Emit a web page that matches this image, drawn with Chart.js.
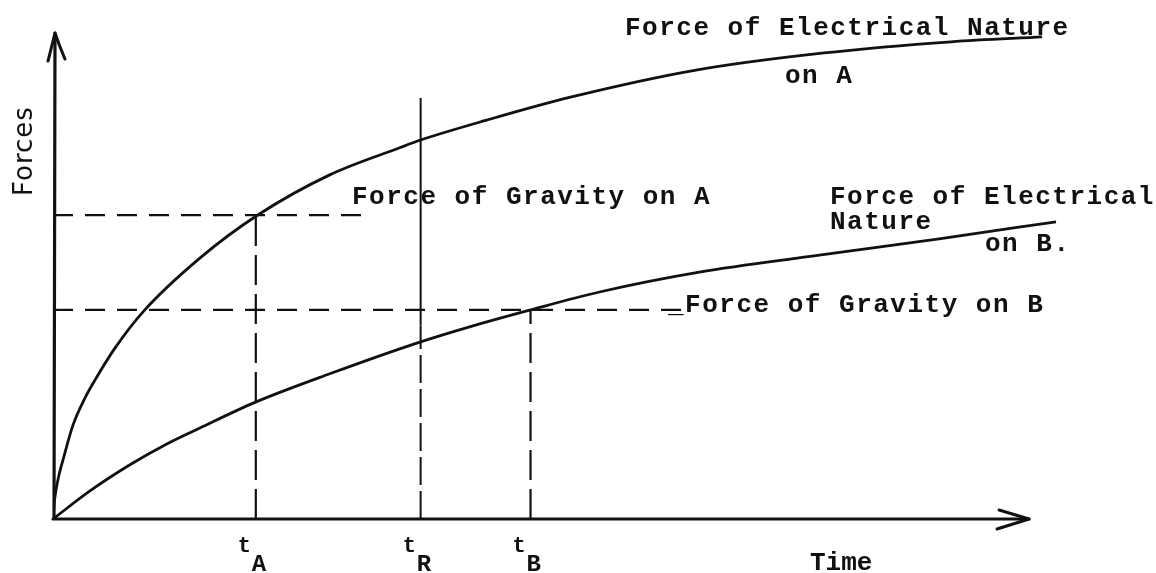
<!DOCTYPE html>
<html>
<head>
<meta charset="utf-8">
<script src="https://cdn.jsdelivr.net/npm/chart.js@4.4.1/dist/chart.umd.min.js"></script>
<style>
  html, body { margin: 0; padding: 0; background: #fff; }
  #wrap { width: 1156px; height: 573px; }
</style>
</head>
<body>
<div id="wrap"><canvas id="forceChart" width="1156" height="573"></canvas></div>
<script>
// ===== DATA (arbitrary units) =====
const electricATime = [0, 0.1, 0.3, 0.6, 1.0, 2.0, 3.2, 4.2, 6.2, 9.1, 14.7, 20.5, 27.7, 34.7, 36.8, 43.4, 51.9, 64.5, 77.2, 89.9, 99.0];
const electricAForce = [0, 2.9, 6.0, 9.1, 12.2, 19.4, 25.0, 28.7, 35.3, 43.0, 53.9, 62.8, 71.1, 76.7, 78.3, 82.4, 87.2, 92.8, 96.3, 98.6, 99.6];

const electricBTime = [0, 3.7, 7.7, 11.2, 14.7, 20.1, 27.7, 36.8, 41.7, 47.8, 54.7, 64.7, 76.7, 88.7, 100.4];
const electricBForce = [0, 5.8, 11.2, 15.3, 18.8, 24.0, 30.0, 36.6, 39.7, 43.2, 46.9, 51.0, 54.5, 57.9, 61.4];

const gravityA = 62.8;
const gravityB = 43.2;
const gravityAEnd = 31.7;
const gravityBEnd = 62.9;

const markerNames = ["A", "R", "B"];
const markerTimes = [20.3, 36.8, 47.8];
const markerTops = [62.8, 87.0, 43.2];

const axisTimeEnd = 97.7;
const axisForceEnd = 100.4;

const INK = "#111";
const TYPE_FONT = 'bold 26px "Liberation Mono", "DejaVu Sans Mono", monospace';

function pts(xs, ys) {
  return xs.map((x, i) => ({ x: x, y: ys[i] }));
}

// ===== DATASETS =====
const datasets = [
  {
    label: "Force of Electrical Nature on A",
    data: pts(electricATime, electricAForce),
    borderColor: INK,
    borderWidth: 2.8,
    cubicInterpolationMode: "monotone",
  },
  {
    label: "Force of Electrical Nature on B",
    data: pts(electricBTime, electricBForce),
    borderColor: INK,
    borderWidth: 2.8,
    cubicInterpolationMode: "monotone",
  },
  {
    label: "Force of Gravity on A",
    data: pts([0, gravityAEnd], [gravityA, gravityA]),
    borderColor: INK,
    borderWidth: 2.2,
    borderDash: [20, 12],
  },
  {
    label: "Force of Gravity on B",
    data: pts([0, gravityBEnd], [gravityB, gravityB]),
    borderColor: INK,
    borderWidth: 2.2,
    borderDash: [20, 12],
  },
  {
    label: "tA",
    data: pts([markerTimes[0], markerTimes[0]], [0, markerTops[0]]),
    borderColor: INK,
    borderWidth: 2.2,
    borderDash: [30, 9],
  },
  {
    label: "tR upper",
    data: pts([markerTimes[1], markerTimes[1]], [40, markerTops[1]]),
    borderColor: INK,
    borderWidth: 2,
  },
  {
    label: "tR lower",
    data: pts([markerTimes[1], markerTimes[1]], [0, 40]),
    borderColor: INK,
    borderWidth: 2,
    borderDash: [28, 6],
  },
  {
    label: "tB",
    data: pts([markerTimes[2], markerTimes[2]], [0, markerTops[2]]),
    borderColor: INK,
    borderWidth: 2.2,
    borderDash: [30, 9],
  },
];

// ===== AXES, ARROWS AND LABELS =====
const sketchPlugin = {
  id: "sketch",
  afterDatasetsDraw(chart) {
    const { ctx, scales } = chart;
    const x = scales.x;
    const y = scales.y;
    const ox = x.getPixelForValue(0);
    const oy = y.getPixelForValue(0);
    const xEnd = x.getPixelForValue(axisTimeEnd);
    const yEnd = y.getPixelForValue(axisForceEnd);

    ctx.save();
    ctx.strokeStyle = INK;
    ctx.fillStyle = INK;
    ctx.lineCap = "round";
    ctx.lineJoin = "round";

    // axes
    ctx.lineWidth = 3.2;
    ctx.beginPath();
    ctx.moveTo(ox + 1, oy);
    ctx.lineTo(ox + 2, yEnd);
    ctx.moveTo(ox, oy);
    ctx.lineTo(xEnd, oy);
    ctx.stroke();

    // arrow heads
    ctx.lineWidth = 3;
    ctx.beginPath();
    ctx.moveTo(ox - 5, yEnd + 28);
    ctx.quadraticCurveTo(ox - 1, yEnd + 12, ox + 2, yEnd);
    ctx.quadraticCurveTo(ox + 6, yEnd + 12, ox + 12, yEnd + 26);
    ctx.stroke();
    ctx.beginPath();
    ctx.moveTo(xEnd - 30, oy - 9);
    ctx.lineTo(xEnd, oy);
    ctx.lineTo(xEnd - 32, oy + 10);
    ctx.stroke();

    // typed labels
    ctx.font = TYPE_FONT;
    ctx.letterSpacing = "1.5px";
    ctx.textAlign = "left";
    ctx.textBaseline = "alphabetic";
    ctx.fillText("Force of Electrical Nature", 625, 35);
    ctx.fillText("on A", 785, 83);
    ctx.fillText("Force of Gravity on A", 352, 204);
    ctx.fillText("Force of Electrical", 830, 204);
    ctx.fillText("Nature", 830, 229);
    ctx.fillText("on B.", 985, 251);
    ctx.fillText("_Force of Gravity on B", 668, 312);

    // time markers
    markerTimes.forEach((t, i) => {
      const px = x.getPixelForValue(t);
      ctx.font = 'bold 22px "Liberation Mono", monospace';
      ctx.letterSpacing = "0px";
      ctx.fillText("t", px - 18, 552);
      ctx.font = 'bold 24px "Liberation Mono", monospace';
      ctx.fillText(markerNames[i], px - 4, 571);
    });
    ctx.font = TYPE_FONT;
    ctx.letterSpacing = "0px";
    ctx.fillText("Time", 810, 570);

    // hand lettered y title
    ctx.letterSpacing = "1px";
    ctx.font = '26px "DejaVu Sans", sans-serif';
    ctx.translate(32, 196);
    ctx.rotate(-Math.PI / 2);
    ctx.fillText("Forces", 0, 0);
    ctx.restore();
  },
};

new Chart(document.getElementById("forceChart"), {
  type: "line",
  data: { datasets: datasets },
  options: {
    responsive: false,
    animation: false,
    layout: { padding: { left: 53, right: 84, top: 35, bottom: 54 } },
    elements: { point: { radius: 0 }, line: { fill: false } },
    plugins: {
      legend: { display: false },
      tooltip: { enabled: false },
    },
    scales: {
      x: { type: "linear", min: 0, max: 102, display: false },
      y: { type: "linear", min: 0, max: 100, display: false },
    },
  },
  plugins: [sketchPlugin],
});
</script>
</body>
</html>
